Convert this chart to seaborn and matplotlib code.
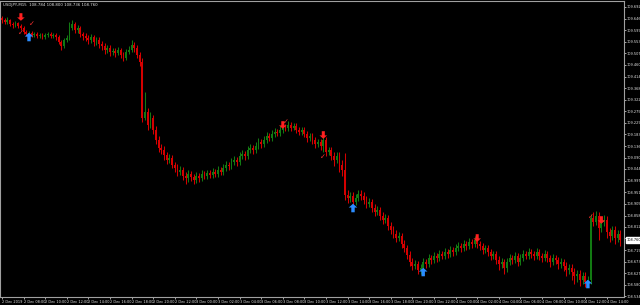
import numpy as np
import pandas as pd
import matplotlib
matplotlib.use("Agg")
import matplotlib.pyplot as plt
import matplotlib.transforms as mtransforms
import seaborn as sns

# ---------------- data ----------------
symbol_title = "USDJPY,M15  108.784 108.800 108.736 108.760"
first_open = 109.648

close = [
    109.640, 109.632, 109.640, 109.624, 109.620, 109.628, 109.616, 109.608, 109.592, 109.584,
    109.588, 109.580, 109.584, 109.576, 109.580, 109.572, 109.580, 109.584, 109.576, 109.580,
    109.572, 109.552, 109.536, 109.560, 109.568, 109.608, 109.624, 109.600, 109.608, 109.584,
    109.576, 109.568, 109.560, 109.572, 109.552, 109.560, 109.544, 109.536, 109.520, 109.528,
    109.512, 109.516, 109.508, 109.520, 109.500, 109.488, 109.512, 109.520, 109.540, 109.528,
    109.500, 109.472, 109.248, 109.272, 109.220, 109.248, 109.200, 109.160, 109.128, 109.120,
    109.100, 109.080, 109.088, 109.060, 109.048, 109.032, 109.040, 109.016, 109.008, 109.024,
    109.012, 109.000, 109.016, 109.008, 109.024, 109.016, 109.028, 109.020, 109.032, 109.024,
    109.040, 109.032, 109.048, 109.060, 109.056, 109.072, 109.080, 109.072, 109.096, 109.104,
    109.096, 109.120, 109.128, 109.120, 109.136, 109.152, 109.144, 109.160, 109.176, 109.168,
    109.184, 109.192, 109.188, 109.200, 109.212, 109.208, 109.220, 109.208, 109.216, 109.200,
    109.192, 109.200, 109.184, 109.168, 109.176, 109.160, 109.144, 109.152, 109.136, 109.160,
    109.112, 109.120, 109.096, 109.080, 109.096, 109.060, 109.040, 108.940, 108.928, 108.936,
    108.912, 108.928, 108.944, 108.936, 108.920, 108.904, 108.912, 108.888, 108.872, 108.880,
    108.856, 108.840, 108.848, 108.816, 108.800, 108.784, 108.768, 108.776, 108.744, 108.728,
    108.700, 108.672, 108.656, 108.664, 108.640, 108.648, 108.672, 108.664, 108.688, 108.680,
    108.696, 108.688, 108.704, 108.696, 108.712, 108.704, 108.720, 108.712, 108.728, 108.736,
    108.728, 108.744, 108.736, 108.752, 108.744, 108.760, 108.744, 108.736, 108.720, 108.728,
    108.712, 108.696, 108.704, 108.680, 108.664, 108.672, 108.648, 108.672, 108.688, 108.680,
    108.696, 108.672, 108.688, 108.704, 108.696, 108.712, 108.704, 108.696, 108.712, 108.696,
    108.688, 108.704, 108.688, 108.672, 108.688, 108.680, 108.664, 108.672, 108.656, 108.640,
    108.648, 108.632, 108.616, 108.624, 108.600, 108.616, 108.592, 108.600, 108.848, 108.832,
    108.856, 108.808, 108.832, 108.840, 108.792, 108.776, 108.800, 108.768, 108.784, 108.760,
]

high = [
    109.656, 109.648, 109.652, 109.644, 109.632, 109.636, 109.632, 109.624, 109.616, 109.600,
    109.596, 109.596, 109.592, 109.592, 109.588, 109.588, 109.588, 109.592, 109.592, 109.588,
    109.588, 109.580, 109.560, 109.568, 109.580, 109.632, 109.640, 109.632, 109.620, 109.616,
    109.592, 109.588, 109.580, 109.584, 109.580, 109.572, 109.572, 109.556, 109.548, 109.540,
    109.540, 109.528, 109.528, 109.532, 109.528, 109.512, 109.524, 109.536, 109.560, 109.552,
    109.540, 109.512, 109.488, 109.352, 109.288, 109.272, 109.260, 109.216, 109.176, 109.144,
    109.136, 109.112, 109.104, 109.100, 109.072, 109.064, 109.056, 109.052, 109.032, 109.040,
    109.036, 109.024, 109.032, 109.028, 109.040, 109.036, 109.040, 109.040, 109.048, 109.044,
    109.056, 109.052, 109.064, 109.076, 109.072, 109.088, 109.096, 109.092, 109.112, 109.120,
    109.116, 109.136, 109.144, 109.140, 109.152, 109.168, 109.164, 109.176, 109.192, 109.188,
    109.200, 109.208, 109.204, 109.216, 109.228, 109.224, 109.236, 109.232, 109.228, 109.228,
    109.212, 109.212, 109.212, 109.196, 109.188, 109.188, 109.172, 109.164, 109.164, 109.192,
    109.172, 109.132, 109.132, 109.112, 109.112, 109.112, 109.080, 109.108, 108.960, 108.952,
    108.952, 108.944, 108.960, 108.960, 108.952, 108.936, 108.928, 108.924, 108.904, 108.896,
    108.892, 108.872, 108.864, 108.860, 108.832, 108.816, 108.800, 108.792, 108.788, 108.760,
    108.740, 108.716, 108.688, 108.680, 108.676, 108.664, 108.688, 108.684, 108.704, 108.700,
    108.712, 108.708, 108.720, 108.716, 108.728, 108.724, 108.736, 108.732, 108.744, 108.752,
    108.748, 108.760, 108.756, 108.768, 108.764, 108.776, 108.772, 108.756, 108.748, 108.740,
    108.740, 108.724, 108.716, 108.716, 108.696, 108.688, 108.684, 108.688, 108.704, 108.700,
    108.712, 108.708, 108.704, 108.720, 108.716, 108.728, 108.724, 108.716, 108.728, 108.724,
    108.708, 108.720, 108.716, 108.700, 108.704, 108.700, 108.692, 108.688, 108.684, 108.672,
    108.664, 108.664, 108.648, 108.640, 108.640, 108.632, 108.632, 108.616, 108.864, 108.872,
    108.876, 108.872, 108.848, 108.860, 108.856, 108.808, 108.816, 108.816, 108.800, 108.800,
]

low = [
    109.628, 109.624, 109.624, 109.616, 109.608, 109.612, 109.608, 109.600, 109.584, 109.576,
    109.572, 109.572, 109.572, 109.568, 109.568, 109.564, 109.564, 109.572, 109.568, 109.568,
    109.560, 109.544, 109.520, 109.528, 109.552, 109.560, 109.600, 109.588, 109.588, 109.572,
    109.560, 109.556, 109.544, 109.548, 109.536, 109.540, 109.528, 109.520, 109.504, 109.508,
    109.496, 109.500, 109.492, 109.500, 109.488, 109.476, 109.480, 109.504, 109.512, 109.512,
    109.488, 109.456, 109.232, 109.240, 109.200, 109.208, 109.184, 109.144, 109.112, 109.104,
    109.080, 109.064, 109.068, 109.048, 109.032, 109.016, 109.020, 109.000, 108.984, 108.992,
    108.996, 108.984, 108.988, 108.992, 108.996, 109.004, 109.004, 109.008, 109.008, 109.012,
    109.012, 109.020, 109.020, 109.036, 109.040, 109.044, 109.060, 109.056, 109.060, 109.084,
    109.080, 109.084, 109.108, 109.104, 109.108, 109.124, 109.128, 109.132, 109.148, 109.156,
    109.156, 109.172, 109.176, 109.176, 109.188, 109.196, 109.196, 109.196, 109.200, 109.188,
    109.180, 109.180, 109.172, 109.152, 109.156, 109.144, 109.128, 109.132, 109.120, 109.112,
    109.096, 109.100, 109.080, 109.056, 109.068, 109.032, 109.016, 108.920, 108.908, 108.912,
    108.896, 108.900, 108.916, 108.920, 108.904, 108.888, 108.892, 108.872, 108.856, 108.860,
    108.840, 108.824, 108.828, 108.800, 108.784, 108.768, 108.752, 108.756, 108.728, 108.712,
    108.684, 108.656, 108.640, 108.644, 108.624, 108.624, 108.636, 108.648, 108.652, 108.664,
    108.668, 108.672, 108.676, 108.684, 108.684, 108.688, 108.692, 108.696, 108.700, 108.716,
    108.712, 108.716, 108.720, 108.724, 108.728, 108.732, 108.728, 108.720, 108.704, 108.708,
    108.696, 108.680, 108.684, 108.664, 108.640, 108.648, 108.624, 108.632, 108.660, 108.664,
    108.668, 108.656, 108.660, 108.676, 108.684, 108.684, 108.688, 108.680, 108.684, 108.680,
    108.672, 108.676, 108.672, 108.652, 108.660, 108.664, 108.644, 108.648, 108.636, 108.616,
    108.624, 108.600, 108.584, 108.592, 108.576, 108.584, 108.572, 108.580, 108.584, 108.816,
    108.820, 108.760, 108.792, 108.816, 108.768, 108.752, 108.760, 108.744, 108.752, 108.736,
]

price_ticks = [
    109.692, 109.646, 109.599, 109.553, 109.507, 109.460, 109.414, 109.368, 109.322,
    109.275, 109.229, 109.183, 109.136, 109.090, 109.044, 108.997, 108.951, 108.905,
    108.858, 108.812, 108.766, 108.719, 108.673, 108.627, 108.580, 108.534,
]

time_labels = [
    "2 Dec 2019", "2 Dec 08:00", "2 Dec 10:00", "2 Dec 12:00", "2 Dec 14:00",
    "2 Dec 16:00", "2 Dec 18:00", "2 Dec 20:00", "2 Dec 22:00",
    "3 Dec 00:00", "3 Dec 02:00", "3 Dec 04:00", "3 Dec 06:00", "3 Dec 08:00",
    "3 Dec 10:00", "3 Dec 12:00", "3 Dec 14:00", "3 Dec 16:00", "3 Dec 18:00",
    "3 Dec 20:00", "3 Dec 22:00",
    "4 Dec 00:00", "4 Dec 02:00", "4 Dec 04:00", "4 Dec 06:00", "4 Dec 08:00",
    "4 Dec 10:00", "4 Dec 12:00", "4 Dec 14:00",
]
bars_per_label = 8

sell_bars = [7, 104, 119, 176, 222]
sell_prices = [109.652, 109.220, 109.180, 108.768, 108.840]
buy_bars = [10, 130, 156, 217]
buy_prices = [109.572, 108.888, 108.632, 108.584]
exit_bars = [7, 11, 105, 119, 218]
exit_prices = [109.588, 109.624, 109.232, 109.092, 108.852]

# ---------------- style ----------------
BG = "#000000"
UP = "#127a12"
DOWN = "#d40000"
FG = "#e6e6e6"
SPINE = "#a0a0a0"
FS = 2.5

sns.set_theme(style="dark", rc={
    "axes.facecolor": BG, "figure.facecolor": BG,
    "axes.edgecolor": SPINE, "axes.grid": False,
    "xtick.color": FG, "ytick.color": FG, "text.color": FG,
})
plt.rcParams["font.family"] = ["Liberation Sans Narrow", "DejaVu Sans"]

fig = plt.figure(figsize=(6.4, 3.05), dpi=100)
ax = fig.add_axes([0.0, 8 / 305, 624 / 640, 296 / 305])
ax.set_facecolor(BG)

df = pd.DataFrame({"close": close, "high": high, "low": low})
df["open"] = [first_open] + close[:-1]
df["bar"] = np.arange(len(df))
df["dir"] = np.where(df["close"] >= df["open"], "up", "down")
palette = {"up": UP, "down": DOWN}
cols = df["dir"].map(palette)

# wicks
ax.vlines(df["bar"], df["low"], df["high"], colors=cols, linewidth=0.75, zorder=2)
# bodies
body = df["close"] - df["open"]
body = body.where(body.abs() > 0.0015, np.sign(body.replace(0, 1)) * 0.0015)
ax.bar(df["bar"], body, bottom=df["open"], width=0.72, color=cols,
       linewidth=0, zorder=3)

# trade markers
up_arrow = [(0, 1), (-1, 0.1), (-0.4, 0.1), (-0.4, -1), (0.4, -1), (0.4, 0.1), (1, 0.1)]
down_arrow = [(x, -y) for x, y in up_arrow]
mk = pd.DataFrame({"bar": buy_bars, "price": buy_prices})
sns.scatterplot(data=mk, x="bar", y="price", marker=up_arrow, s=38,
                color="#2b8cff", edgecolor="none", ax=ax, zorder=5, legend=False)
mk = pd.DataFrame({"bar": sell_bars, "price": sell_prices})
sns.scatterplot(data=mk, x="bar", y="price", marker=down_arrow, s=30,
                color="#ff2020", edgecolor="none", ax=ax, zorder=5, legend=False)
for b, p in zip(exit_bars, exit_prices):
    ax.text(b, p, "\u2713", color="#ff3030", fontsize=5, ha="center",
            va="center", fontweight="bold", zorder=6, family="DejaVu Sans")

# axes limits (bar i at ~2.7 px per bar)
ax.set_xlim(-0.74, 230.37)
ax.set_ylim(108.532, 109.716)

# price scale on the right
ax.yaxis.tick_right()
ax.set_yticks(price_ticks)
ax.set_yticklabels([f"{v:.3f}" for v in price_ticks])
ax.tick_params(axis="y", which="both", right=True, left=False, length=1.5,
               width=0.5, pad=0.6, labelsize=FS, colors=FG)

# time scale at the bottom
xt = [i * bars_per_label for i in range(len(time_labels))]
ax.set_xticks(xt)
ax.set_xticklabels(time_labels, ha="left")
ax.tick_params(axis="x", which="both", bottom=True, length=1.5, width=0.5,
               pad=0.6, labelsize=FS, colors=FG)
ax.set_xlabel("")
ax.set_ylabel("")

for s in ax.spines.values():
    s.set_color(SPINE)
    s.set_linewidth(0.8)
    s.set_visible(True)

# current price box
trans = mtransforms.blended_transform_factory(ax.transAxes, ax.transData)
ax.text(1.004, close[-1], f"{close[-1]:.3f}", transform=trans, fontsize=FS,
        color="black", va="center", ha="left",
        bbox=dict(facecolor="white", edgecolor="white", pad=0.4), zorder=10,
        clip_on=False)

fig.text(3 / 640, 1 - 5 / 305, symbol_title, fontsize=FS + 0.3, color=FG,
         va="center", ha="left")

fig.savefig("out.png", dpi=100, facecolor=BG)
